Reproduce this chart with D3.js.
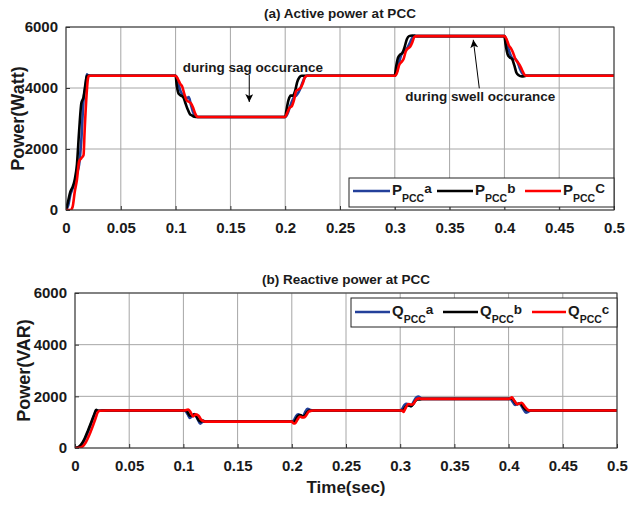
<!DOCTYPE html>
<html>
<head>
<meta charset="utf-8">
<script src="https://cdn.jsdelivr.net/npm/d3@7"></script>
<style>
  html, body { margin: 0; padding: 0; background: #fff; }
  svg { display: block; font-family: Arial, "Liberation Sans", Helvetica, sans-serif; }
  text { font-weight: bold; fill: #1a1a1a; }
</style>
</head>
<body>
<svg id="chart" width="628" height="505"></svg>
<script>
// ---- data: time (s) vs per-phase power ----
const xTicks = [0, 0.05, 0.1, 0.15, 0.2, 0.25, 0.3, 0.35, 0.4, 0.45, 0.5];
const xTickLabels = ["0", "0.05", "0.1", "0.15", "0.2", "0.25", "0.3", "0.35", "0.4", "0.45", "0.5"];
const yTicks = [0, 2000, 4000, 6000];
const yTickLabels = ["0", "2000", "4000", "6000"];
const phaseColors = ["#23409a", "#000000", "#ff0000"];
const pLegendSuffix = ["a", "b", "C"];
const qLegendSuffix = ["a", "b", "c"];

// Active power at PCC, phases a/b/c  [t, W]
const pccA = [
  [0,0],[0.002,150],[0.004,500],[0.006,700],[0.008,900],[0.010,1200],[0.012,1500],[0.014,2300],[0.016,3600],[0.018,4100],[0.019,4450],[0.020,4420],[0.022,4400],
  [0.100,4400],[0.102,4250],[0.104,3950],[0.106,3800],[0.108,3750],[0.110,3650],[0.112,3700],[0.114,3450],[0.116,3200],[0.118,3080],[0.120,3050],
  [0.200,3050],[0.202,3150],[0.204,3350],[0.206,3550],[0.208,3700],[0.210,3750],[0.212,3850],[0.214,4000],[0.216,4200],[0.218,4350],[0.220,4400],
  [0.300,4400],[0.302,4550],[0.304,4850],[0.306,5100],[0.308,5200],[0.310,5250],[0.312,5350],[0.314,5500],[0.316,5650],[0.318,5720],[0.320,5700],
  [0.400,5700],[0.402,5550],[0.404,5250],[0.406,5050],[0.408,4950],[0.410,4950],[0.412,4850],[0.414,4650],[0.416,4500],[0.418,4420],[0.420,4400],[0.500,4400]
];
const pccB = [
  [0,0],[0.002,300],[0.004,600],[0.006,750],[0.008,1000],[0.010,1500],[0.012,2600],[0.014,3500],[0.016,3700],[0.018,4200],[0.019,4400],[0.022,4400],
  [0.100,4400],[0.101,4100],[0.103,3800],[0.105,3750],[0.107,3700],[0.109,3500],[0.111,3300],[0.113,3150],[0.115,3100],[0.117,3060],[0.120,3050],
  [0.200,3050],[0.201,3250],[0.203,3600],[0.205,3750],[0.207,3750],[0.209,3900],[0.211,4200],[0.213,4350],[0.215,4400],[0.220,4400],
  [0.300,4400],[0.301,4650],[0.303,5000],[0.305,5100],[0.307,5150],[0.309,5350],[0.311,5600],[0.313,5700],[0.316,5720],[0.320,5700],
  [0.400,5700],[0.401,5450],[0.403,5100],[0.405,5000],[0.407,4950],[0.409,4750],[0.411,4500],[0.413,4420],[0.416,4380],[0.420,4400],[0.500,4400]
];
const pccC = [
  [0,0],[0.004,0],[0.006,100],[0.008,600],[0.010,1000],[0.012,1600],[0.014,1700],[0.016,1800],[0.017,2600],[0.019,3900],[0.020,4300],[0.021,4400],
  [0.100,4400],[0.102,4300],[0.104,4150],[0.106,4050],[0.108,3800],[0.110,3600],[0.112,3550],[0.114,3500],[0.116,3350],[0.118,3150],[0.120,3050],
  [0.200,3050],[0.202,3200],[0.204,3350],[0.206,3400],[0.208,3600],[0.210,3900],[0.212,3950],[0.214,4000],[0.216,4150],[0.218,4350],[0.220,4400],
  [0.300,4400],[0.302,4500],[0.304,4750],[0.306,4850],[0.308,4950],[0.310,5200],[0.312,5300],[0.314,5350],[0.316,5500],[0.318,5680],[0.320,5700],
  [0.400,5700],[0.402,5600],[0.404,5400],[0.406,5300],[0.408,5150],[0.410,4950],[0.412,4850],[0.414,4750],[0.416,4600],[0.418,4450],[0.420,4400],[0.500,4400]
];

// Reactive power at PCC, phases a/b/c  [t, VAR]
const qccA = [
  [0,0],[0.003,20],[0.006,120],[0.009,330],[0.012,620],[0.015,950],[0.018,1300],[0.0195,1450],[0.021,1440],[0.025,1450],
  [0.100,1450],[0.102,1420],[0.104,1300],[0.106,1160],[0.108,1230],[0.1105,1310],[0.113,1130],[0.1155,940],[0.118,1020],[0.120,1020],
  [0.200,1020],[0.202,1080],[0.204,1240],[0.206,1300],[0.208,1250],[0.210,1200],[0.212,1360],[0.2145,1520],[0.217,1470],[0.220,1450],
  [0.300,1450],[0.302,1530],[0.304,1670],[0.306,1710],[0.308,1640],[0.310,1620],[0.312,1760],[0.315,1960],[0.317,1990],[0.320,1900],
  [0.400,1900],[0.402,1880],[0.404,1770],[0.406,1670],[0.408,1700],[0.410,1720],[0.413,1550],[0.416,1370],[0.418,1400],[0.420,1450],[0.500,1450]
];
const qccB = [
  [0,0],[0.003,30],[0.006,150],[0.009,380],[0.012,680],[0.015,1000],[0.018,1330],[0.0195,1480],[0.021,1440],[0.025,1450],
  [0.100,1450],[0.102,1460],[0.104,1380],[0.106,1250],[0.108,1250],[0.110,1300],[0.112,1220],[0.114,1080],[0.116,1030],[0.118,1060],[0.120,1020],
  [0.200,1020],[0.202,1000],[0.204,1120],[0.206,1250],[0.208,1280],[0.210,1220],[0.212,1260],[0.214,1380],[0.216,1450],[0.218,1440],[0.220,1450],
  [0.300,1450],[0.302,1450],[0.304,1530],[0.306,1640],[0.308,1660],[0.310,1620],[0.312,1700],[0.314,1820],[0.316,1880],[0.318,1880],[0.320,1900],
  [0.400,1900],[0.402,1920],[0.404,1880],[0.406,1760],[0.408,1700],[0.410,1720],[0.412,1680],[0.414,1560],[0.416,1480],[0.418,1460],[0.420,1450],[0.500,1450]
];
const qccC = [
  [0,0],[0.004,10],[0.007,60],[0.010,220],[0.013,480],[0.016,800],[0.019,1150],[0.021,1380],[0.023,1440],[0.030,1450],
  [0.100,1450],[0.1015,1460],[0.1045,1490],[0.107,1360],[0.109,1220],[0.1115,1300],[0.114,1250],[0.116,1120],[0.1183,1040],[0.120,1020],
  [0.200,1020],[0.2015,960],[0.203,948],[0.205,1080],[0.2075,1220],[0.210,1180],[0.212,1200],[0.2155,1400],[0.218,1440],[0.220,1450],
  [0.300,1450],[0.3015,1450],[0.303,1400],[0.305,1550],[0.3075,1700],[0.310,1680],[0.312,1700],[0.315,1880],[0.318,1920],[0.320,1900],
  [0.400,1900],[0.4015,1920],[0.403,1960],[0.405,1850],[0.408,1700],[0.410,1720],[0.412,1750],[0.415,1600],[0.418,1470],[0.420,1450],[0.500,1450]
];

// annotation anchors in data units
const sagNote = { text: "during sag occurance", t: 0.1065, v: 4520, arrowFrom: [0.1672, 4430], arrowTo: [0.1672, 3540] };
const swellNote = { text: "during swell occurance", t: 0.3095, v: 3560, arrowFrom: [0.3771, 3990], arrowTo: [0.3716, 5580] };

// ---- drawing ----
const svg = d3.select("#chart");
const defs = svg.append("defs");
defs.append("marker").attr("id", "arrowHead")
  .attr("viewBox", "0 0 10 10").attr("refX", 10).attr("refY", 5)
  .attr("markerWidth", 10).attr("markerHeight", 8).attr("markerUnits", "userSpaceOnUse")
  .attr("orient", "auto")
  .append("path").attr("d", "M0,0 L10,5 L0,10 L2.5,5 Z").attr("fill", "#000");

function panel(cfg) {
  const x = d3.scaleLinear().domain([0, 0.5]).range([cfg.left, cfg.right]);
  const y = d3.scaleLinear().domain([0, 6000]).range([cfg.bottom, cfg.top]);
  const g = svg.append("g");

  // grid
  g.append("g").selectAll("line").data(xTicks).join("line")
    .attr("x1", d => x(d)).attr("x2", d => x(d)).attr("y1", cfg.top).attr("y2", cfg.bottom)
    .attr("stroke", "#a6a6a6").attr("stroke-width", 1);
  g.append("g").selectAll("line").data(yTicks).join("line")
    .attr("y1", d => y(d)).attr("y2", d => y(d)).attr("x1", cfg.left).attr("x2", cfg.right)
    .attr("stroke", "#a6a6a6").attr("stroke-width", 1);

  // axes (ticks inward)
  const xAxis = d3.axisBottom(x).tickValues(xTicks).tickFormat((d, i) => xTickLabels[i]).tickSizeInner(-4).tickSizeOuter(0).tickPadding(12);
  const yAxis = d3.axisLeft(y).tickValues(yTicks).tickFormat((d, i) => yTickLabels[i]).tickSizeInner(-4).tickSizeOuter(0).tickPadding(8);
  const gx = g.append("g").attr("transform", `translate(0,${cfg.bottom})`).call(xAxis);
  const gy = g.append("g").attr("transform", `translate(${cfg.left},0)`).call(yAxis);
  [gx, gy].forEach(a => {
    a.select(".domain").remove();
    a.selectAll(".tick line").attr("stroke", "#333");
    a.selectAll("text").attr("font-size", 15).attr("font-weight", "bold").attr("fill", "#1a1a1a")
      .attr("font-family", "Arial, 'Liberation Sans', sans-serif");
  });

  // clip + series
  const clipId = "clip" + cfg.id;
  defs.append("clipPath").attr("id", clipId).append("rect")
    .attr("x", cfg.left).attr("y", cfg.top - 2).attr("width", cfg.right - cfg.left).attr("height", cfg.bottom - cfg.top + 2);
  const line = d3.line().x(d => x(d[0])).y(d => y(d[1])).curve(d3.curveMonotoneX);
  g.append("g").attr("clip-path", `url(#${clipId})`)
    .selectAll("path").data(cfg.series).join("path")
    .attr("d", line).attr("fill", "none")
    .attr("stroke", (d, i) => phaseColors[i]).attr("stroke-width", 2.6)
    .attr("stroke-linejoin", "round").attr("stroke-linecap", "round");

  // frame
  g.append("rect").attr("x", cfg.left).attr("y", cfg.top)
    .attr("width", cfg.right - cfg.left).attr("height", cfg.bottom - cfg.top)
    .attr("fill", "none").attr("stroke", "#333").attr("stroke-width", 1);

  // title
  g.append("text").attr("x", (cfg.left + cfg.right) / 2).attr("y", cfg.top - 9)
    .attr("text-anchor", "middle").attr("font-size", 13.5).text(cfg.title);

  // y label
  g.append("text").attr("transform", `translate(${cfg.yLabelX},${(cfg.top + cfg.bottom) / 2}) rotate(-90)`)
    .attr("text-anchor", "middle").attr("font-size", 18).text(cfg.yLabel);

  // legend
  const lg = g.append("g");
  lg.append("rect").attr("x", cfg.legend.x0).attr("y", cfg.legend.y0)
    .attr("width", cfg.legend.x1 - cfg.legend.x0).attr("height", cfg.legend.y1 - cfg.legend.y0)
    .attr("fill", "#fff").attr("stroke", "#222").attr("stroke-width", 1);
  cfg.legend.items.forEach((it, i) => {
    const ly = cfg.legend.lineY;
    lg.append("line").attr("x1", it.lx0).attr("x2", it.lx1).attr("y1", ly).attr("y2", ly)
      .attr("stroke", phaseColors[i]).attr("stroke-width", 2.6);
    const t = lg.append("text").attr("x", it.lx1 + 2).attr("y", ly + 4).attr("font-size", 15);
    t.append("tspan").text(cfg.legend.symbol);
    t.append("tspan").attr("font-size", 10.5).attr("dy", 7).text("PCC");
    t.append("tspan").attr("font-size", 13.5).attr("dy", -9).text(cfg.legend.suffix[i]);
  });

  return { x, y, g };
}

const activePanel = panel({
  id: "P", left: 66, right: 614, top: 27, bottom: 210,
  series: [pccA, pccB, pccC],
  title: "(a) Active power at PCC", yLabel: "Power(Watt)", yLabelX: 24,
  legend: {
    x0: 349, x1: 614, y0: 178, y1: 207, lineY: 191, symbol: "P", suffix: pLegendSuffix,
    items: [{ lx0: 353, lx1: 390 }, { lx0: 437, lx1: 473 }, { lx0: 525, lx1: 561 }]
  }
});

const reactivePanel = panel({
  id: "Q", left: 75, right: 617, top: 293, bottom: 448,
  series: [qccA, qccB, qccC],
  title: "(b) Reactive power at PCC", yLabel: "Power(VAR)", yLabelX: 30,
  legend: {
    x0: 351, x1: 617, y0: 298, y1: 327, lineY: 312, symbol: "Q", suffix: qLegendSuffix,
    items: [{ lx0: 355, lx1: 390 }, { lx0: 443, lx1: 478 }, { lx0: 532, lx1: 566 }]
  }
});

// x-axis title
svg.append("text").attr("x", (75 + 617) / 2).attr("y", 493).attr("text-anchor", "middle")
  .attr("font-size", 17).text("Time(sec)");

// annotations on the active-power panel
[sagNote, swellNote].forEach(n => {
  activePanel.g.append("text").attr("x", activePanel.x(n.t)).attr("y", activePanel.y(n.v))
    .attr("font-size", 13.5).attr("fill", "#111").text(n.text);
  activePanel.g.append("line")
    .attr("x1", activePanel.x(n.arrowFrom[0])).attr("y1", activePanel.y(n.arrowFrom[1]))
    .attr("x2", activePanel.x(n.arrowTo[0])).attr("y2", activePanel.y(n.arrowTo[1]))
    .attr("stroke", "#000").attr("stroke-width", 1).attr("marker-end", "url(#arrowHead)");
});
</script>
</body>
</html>
